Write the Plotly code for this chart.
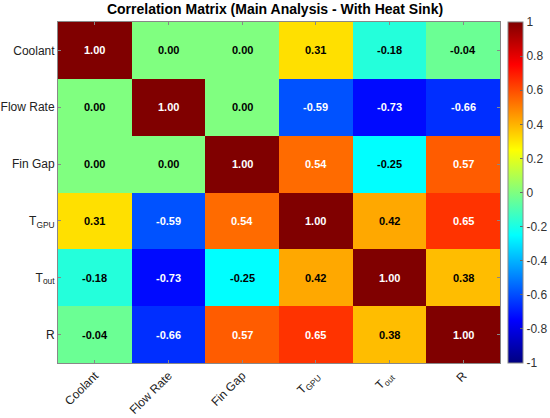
import plotly.graph_objects as go

# variable names and correlation values
labels = ["Coolant", "Flow Rate", "Fin Gap", "T<sub>GPU</sub>", "T<sub>out</sub>", "R"]
corr = [
    [1.00, 0.00, 0.00, 0.31, -0.18, -0.04],
    [0.00, 1.00, 0.00, -0.59, -0.73, -0.66],
    [0.00, 0.00, 1.00, 0.54, -0.25, 0.57],
    [0.31, -0.59, 0.54, 1.00, 0.42, 0.65],
    [-0.18, -0.73, -0.25, 0.42, 1.00, 0.38],
    [-0.04, -0.66, 0.57, 0.65, 0.38, 1.00],
]
cbar_ticks = [-1, -0.8, -0.6, -0.4, -0.2, 0, 0.2, 0.4, 0.6, 0.8, 1]

# matlab jet
jet = [
    [0.0, "rgb(0,0,128)"],
    [0.125, "rgb(0,0,255)"],
    [0.375, "rgb(0,255,255)"],
    [0.625, "rgb(255,255,0)"],
    [0.875, "rgb(255,0,0)"],
    [1.0, "rgb(128,0,0)"],
]

idx = list(range(len(labels)))

fig = go.Figure(go.Heatmap(
    z=corr, x=idx, y=idx,
    colorscale=jet, zmin=-1, zmax=1,
    hoverinfo="skip",
    colorbar=dict(
        x=1.017, xanchor="left", xpad=0, ypad=0,
        y=0.5, len=1, thickness=15,
        outlinecolor="#888", outlinewidth=1,
        tickvals=cbar_ticks, ticktext=[f"{t:g}" for t in cbar_ticks],
        ticks="inside", ticklen=3, tickcolor="#666",
        tickfont=dict(family="Liberation Sans, Arial", size=12, color="#333"),
    ),
))

annotations = []
for i, row in enumerate(corr):
    for j, v in enumerate(row):
        annotations.append(dict(
            x=j, y=i, xref="x", yref="y", showarrow=False,
            text=f"<b>{v:.2f}</b>",
            font=dict(family="Liberation Sans, Arial", size=11,
                      color="white" if abs(v) > 0.5 else "black"),
        ))

axis_common = dict(
    tickvals=idx, ticktext=labels,
    showgrid=False, zeroline=False, automargin=False,
    showline=True, linecolor="#888", linewidth=1, mirror="ticks",
    ticks="inside", ticklen=3, tickcolor="#888",
    tickfont=dict(family="Liberation Sans, Arial", size=12, color="#222"),
)

fig.update_layout(
    width=550, height=418,
    margin=dict(l=58, r=50, t=22, b=55, autoexpand=False),
    paper_bgcolor="white", plot_bgcolor="white",
    title=dict(text="<b>Correlation Matrix (Main Analysis - With Heat Sink)</b>",
               x=0.5, xanchor="center", y=0.99, yanchor="top",
               font=dict(family="Liberation Sans, Arial", size=14, color="black")),
    xaxis=dict(axis_common, range=[-0.5, 5.5], tickangle=-45),
    yaxis=dict(axis_common, range=[5.5, -0.5]),
    annotations=annotations,
)

# drop the default page margin so the figure sits at the window corner
fig.write_html("out.html", config={"displayModeBar": False},
               post_script="document.body.style.margin='0';")
